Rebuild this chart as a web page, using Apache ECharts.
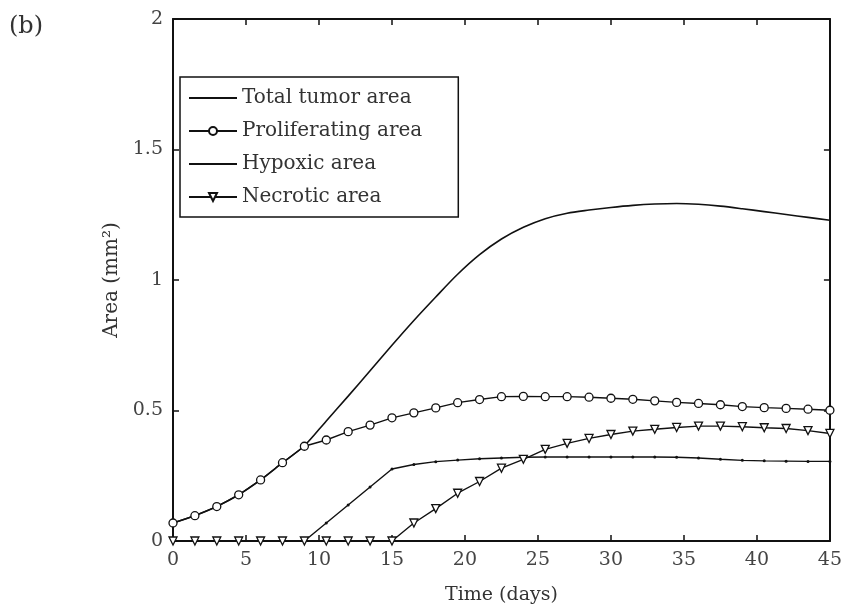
<!DOCTYPE html>
<html>
<head>
<meta charset="utf-8">
<script src="https://cdn.jsdelivr.net/npm/echarts@6/dist/echarts.min.js"></script>
<style>
  html, body { margin: 0; padding: 0; background: #fff; }
  #main { width: 845px; height: 610px; }
</style>
</head>
<body>
<div id="main"></div>
<script>
// time points (days), one every 1.5 days
var days = [0, 1.5, 3, 4.5, 6, 7.5, 9, 10.5, 12, 13.5, 15, 16.5, 18, 19.5, 21, 22.5,
            24, 25.5, 27, 28.5, 30, 31.5, 33, 34.5, 36, 37.5, 39, 40.5, 42, 43.5, 45];

var totalArea = [0.069, 0.097, 0.132, 0.177, 0.234, 0.300, 0.365, 0.460, 0.555, 0.652, 0.750,
                 0.845, 0.935, 1.022, 1.097, 1.157, 1.202, 1.235, 1.256, 1.268, 1.278, 1.286,
                 1.291, 1.293, 1.290, 1.283, 1.273, 1.262, 1.251, 1.240, 1.229];

var prolifArea = [0.069, 0.097, 0.132, 0.177, 0.234, 0.300, 0.363, 0.387, 0.419, 0.444, 0.472,
                  0.491, 0.510, 0.530, 0.542, 0.553, 0.554, 0.553, 0.553, 0.551, 0.547, 0.543,
                  0.537, 0.531, 0.527, 0.522, 0.515, 0.511, 0.508, 0.505, 0.501];

var hypoxicArea = [0, 0, 0, 0, 0, 0, 0, 0.069, 0.138, 0.207, 0.276,
                   0.293, 0.304, 0.310, 0.315, 0.318, 0.321, 0.322, 0.322, 0.322, 0.322, 0.322,
                   0.322, 0.321, 0.318, 0.313, 0.309, 0.307, 0.306, 0.305, 0.305];

var necroticArea = [0, 0, 0, 0, 0, 0, 0, 0, 0, 0, 0,
                    0.069, 0.124, 0.183, 0.228, 0.279, 0.313, 0.351, 0.374, 0.393, 0.408, 0.421,
                    0.428, 0.435, 0.440, 0.440, 0.438, 0.434, 0.431, 0.423, 0.412];

var seriesNames = ['Total tumor area', 'Proliferating area', 'Hypoxic area', 'Necrotic area'];

var xTicks = { min: 0, max: 45, interval: 5 };
var yTicks = { min: 0, max: 2, interval: 0.5 };

function pairs(vals) {
    var out = [];
    for (var i = 0; i < days.length; i++) {
        out.push([days[i], vals[i]]);
    }
    return out;
}

var serif = 'DejaVu Serif';
var ink = '#111';

var myChart = echarts.init(document.getElementById('main'));

function axisBase(extra) {
    var a = {
        type: 'value',
        axisLine: { show: true, onZero: false, lineStyle: { color: ink, width: 2 } },
        axisTick: { show: true, inside: true, length: 6, lineStyle: { color: ink, width: 1.5 } },
        splitLine: { show: false },
        axisLabel: { show: false }
    };
    for (var k in extra) a[k] = extra[k];
    return a;
}

myChart.setOption({
    animation: false,
    backgroundColor: '#fff',
    graphic: [{
        type: 'text',
        left: 9,
        top: 15,
        style: { text: '(b)', font: '24px "DejaVu Serif"', fill: '#333' }
    }],
    grid: { left: 173, right: 11, top: 19, bottom: 67, containLabel: false },
    legend: {
        // legend icons: line only for total and hypoxic
        data: [
            { name: seriesNames[0], itemStyle: { opacity: 0 } },
            { name: seriesNames[1] },
            { name: seriesNames[2], itemStyle: { opacity: 0 } },
            { name: seriesNames[3] }
        ],
        orient: 'vertical',
        left: 180,
        top: 77,
        itemWidth: 48,
        itemHeight: 10,
        itemGap: 13,
        itemTextGap: 9,
        padding: [11, 36, 10, 8],
        borderColor: ink,
        borderWidth: 1.5,
        backgroundColor: '#fff',
        textStyle: { fontFamily: serif, fontSize: 20, color: '#333' }
    },
    xAxis: [
        axisBase({
            position: 'bottom',
            min: xTicks.min, max: xTicks.max, interval: xTicks.interval,
            name: 'Time (days)',
            nameLocation: 'middle',
            nameGap: 45,
            nameTextStyle: { fontFamily: serif, fontSize: 19, color: '#333' },
            axisLabel: { show: true, fontFamily: serif, fontSize: 19, color: '#444', margin: 10 }
        }),
        axisBase({ position: 'top', min: xTicks.min, max: xTicks.max, interval: xTicks.interval })
    ],
    yAxis: [
        axisBase({
            position: 'left',
            min: yTicks.min, max: yTicks.max, interval: yTicks.interval,
            name: 'Area (mm\u00b2)',
            nameLocation: 'middle',
            nameGap: 51,
            nameTextStyle: { fontFamily: serif, fontSize: 20, color: '#333' },
            axisLabel: { show: true, fontFamily: serif, fontSize: 19, color: '#444', margin: 10 }
        }),
        axisBase({ position: 'right', min: yTicks.min, max: yTicks.max, interval: yTicks.interval })
    ],
    series: [
        {
            name: seriesNames[0],
            type: 'line',
            data: pairs(totalArea),
            smooth: 0.3,
            symbol: 'none',
            lineStyle: { color: ink, width: 1.6 },
            itemStyle: { color: ink },
            z: 3
        },
        {
            name: seriesNames[1],
            type: 'line',
            data: pairs(prolifArea),
            symbol: 'circle',
            symbolSize: 8,
            lineStyle: { color: ink, width: 1.4 },
            itemStyle: { color: '#fff', borderColor: ink, borderWidth: 1.3 },
            z: 4
        },
        {
            name: seriesNames[2],
            type: 'line',
            data: pairs(hypoxicArea),
            symbol: 'circle',
            symbolSize: 3,
            lineStyle: { color: ink, width: 1.4 },
            itemStyle: { color: ink },
            z: 3
        },
        {
            name: seriesNames[3],
            type: 'line',
            data: pairs(necroticArea),
            symbol: 'triangle',
            symbolRotate: 180,
            symbolSize: 8,
            lineStyle: { color: ink, width: 1.4 },
            itemStyle: { color: '#fff', borderColor: ink, borderWidth: 1.3 },
            z: 4
        }
    ]
});
</script>
</body>
</html>
